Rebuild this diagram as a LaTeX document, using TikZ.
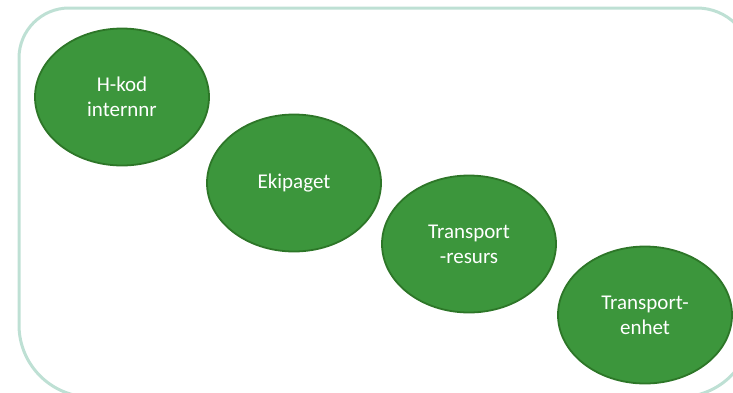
\documentclass[tikz,border=0pt]{standalone}
\usepackage{fontspec}
\setmainfont{Carlito}
\usetikzlibrary{shapes.geometric}

\definecolor{frameteal}{RGB}{190,224,212}
\definecolor{blobgreen}{RGB}{60,150,60}
\definecolor{blobedge}{RGB}{45,118,40}

\tikzset{
  blob/.style={ellipse, draw=blobedge, line width=1.8pt, fill=blobgreen,
    minimum width=174pt, minimum height=137pt, inner sep=0pt,
    text=white, align=center, font=\fontsize{21}{25}\selectfont},
}

\begin{document}
\begin{tikzpicture}[x=1pt, y=-1pt]
    \useasboundingbox (0, 0) rectangle (733, 392);

    % frame, runs off the right and bottom edges
    \draw [frameteal, line width=3pt]
      (19, 200) [rounded corners=50pt] -- (19, 8) -- (400, 8)
      [rounded corners=55pt] -- (752, 8) -- (752, 200)
      [rounded corners=72pt] -- (752, 397) -- (19, 397) -- cycle;

    \node [blob] (hkod) at (122, 97) {H-kod\\internnr};
    \node [blob] (ekipage) at (294, 183) {Ekipaget};
    \node [blob] (resurs) at (469, 244) {Transport\\-resurs};
    \node [blob] (enhet) at (645, 315) {Transport-\\enhet};
  \end{tikzpicture}
\end{document}
